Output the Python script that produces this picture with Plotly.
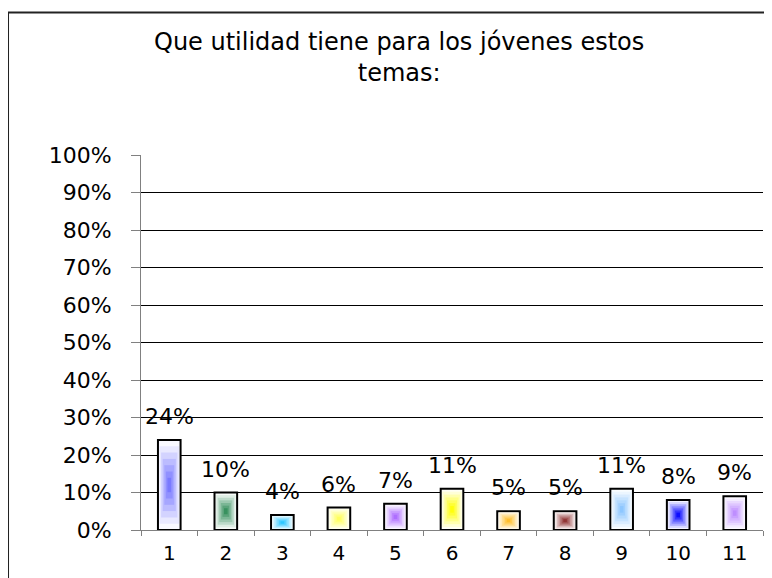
import plotly.graph_objects as go

# data
categories = ["1", "2", "3", "4", "5", "6", "7", "8", "9", "10", "11"]
values = [0.24, 0.10, 0.04, 0.06, 0.07, 0.11, 0.05, 0.05, 0.11, 0.08, 0.09]
center_colors = ["#7373ff", "#2e8b57", "#22c4ff", "#ffff55", "#aa66ff", "#ffff00",
                 "#ffbb22", "#8b2a2a", "#88c4ff", "#0000ff", "#bb88ff"]
title_text = "Que utilidad tiene para los jóvenes estos<br>temas:"

FONT = "DejaVu Sans"
BAR_W = 0.4
steps = [1.0, 0.86, 0.72, 0.58, 0.44, 0.3, 0.16]


def mix(hex_color, t):
    # t=0 -> white, t=1 -> full colour
    r, g, b = (int(hex_color[i:i + 2], 16) for i in (1, 3, 5))
    r = round(255 + (r - 255) * t)
    g = round(255 + (g - 255) * t)
    b = round(255 + (b - 255) * t)
    return f"rgb({r},{g},{b})"


fig = go.Figure()

# nested rectangles fake the centre-glow gradient of the original bars
for i, k in enumerate(steps):
    t = i / (len(steps) - 1)
    fig.add_trace(go.Bar(
        x=categories,
        y=[v * k for v in values],
        base=[v * (1 - k) / 2 for v in values],
        width=BAR_W * k,
        marker=dict(
            color=[mix(c, t * 0.95 if i else 0.04) for c in center_colors],
            line=dict(color="black", width=2 if i == 0 else 0),
        ),
        hoverinfo="skip",
        showlegend=False,
    ))

# value labels above the bars (numeric x = category index)
for idx, v in enumerate(values):
    fig.add_annotation(
        x=idx, y=v, text=f"{v:.0%}", showarrow=False,
        yanchor="bottom", yshift=9,
        font=dict(family=FONT, size=22, color="black"),
    )

# outer chart border (runs off the right and bottom of the picture)
fig.add_shape(type="rect", xref="paper", yref="paper",
              x0=-0.2138, x1=1.05, y0=-0.3, y1=1.38,
              line=dict(color="#222222", width=2), fillcolor="rgba(0,0,0,0)",
              layer="below")

fig.update_layout(
    width=764, height=570,
    barmode="overlay",
    paper_bgcolor="white", plot_bgcolor="white",
    margin=dict(l=133, r=9, t=147, b=48),
    title=dict(text=title_text, x=0.512, xanchor="center", y=0.926, yanchor="top",
               font=dict(family=FONT, size=24, color="black")),
    font=dict(family=FONT, size=22, color="black"),
    xaxis=dict(
        type="category", tickson="boundaries", ticks="outside", ticklen=5,
        tickcolor="#808080", showline=True, linecolor="#808080",
        showgrid=False, tickfont=dict(size=20), range=[-0.5, 10.5],
        ticklabelstandoff=5,
    ),
    yaxis=dict(
        range=[0, 1], dtick=0.1, tickformat=".0%",
        ticks="outside", ticklen=9, tickcolor="#808080",
        showline=True, linecolor="#808080",
        showgrid=True, gridcolor="black", gridwidth=1,
        zeroline=False, ticklabelstandoff=15,
    ),
)

fig.write_html("out.html")
